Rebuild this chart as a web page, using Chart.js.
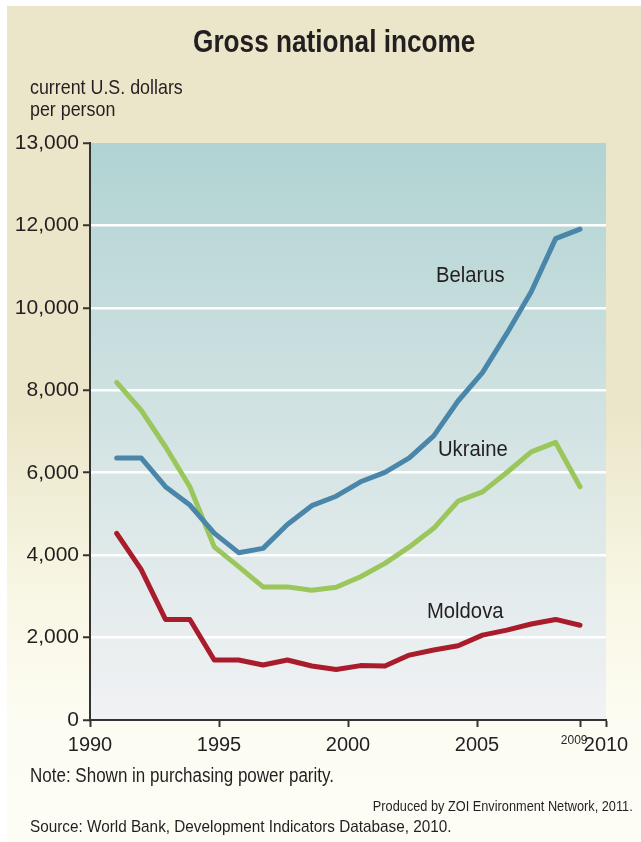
<!DOCTYPE html>
<html>
<head>
<meta charset="utf-8">
<script src="https://cdn.jsdelivr.net/npm/chart.js@4.4.1/dist/chart.umd.min.js"></script>
<style>
  html, body { margin: 0; padding: 0; background: #ffffff; }
  #page {
    position: relative; width: 641px; height: 842px; overflow: hidden;
    font-family: "Liberation Sans", Arial, sans-serif;
    color: #231f20;
  }
  #panel {
    position: absolute; left: 7px; top: 6px; right: 0; bottom: 0;
    background: linear-gradient(to bottom, #ebe6c9 0%, #ebe6c9 48%, #f8f6e4 70%, #fdfcf2 85%, #fefdf5 100%);
  }
  #chartBox { position: absolute; left: 0; top: 0; width: 641px; height: 842px; }
  /* the original uses a narrow sans, so squeeze the text a little */
  .txt { position: absolute; white-space: nowrap; transform-origin: left top; transform: scaleX(0.85); }
  #title { left: 193px; top: 24px; font-weight: bold; font-size: 31px; transform: scaleX(0.845); }
  #unit { left: 30px; top: 76px; font-size: 21px; line-height: 22px; }
  .series { font-size: 22px; transform: scaleX(0.92); }
  #note { left: 30px; top: 764px; font-size: 20px; }
  #producer { right: 8px; top: 797px; font-size: 15px; transform-origin: right top; }
  #source { left: 30px; top: 817px; font-size: 17px; transform: scaleX(0.9); }
</style>
</head>
<body>
<div id="page">
  <div id="panel"></div>
  <div id="chartBox"><canvas id="gniChart" width="641" height="842"></canvas></div>
  <div class="txt" id="title">Gross national income</div>
  <div class="txt" id="unit">current U.S. dollars<br>per person</div>
  <div class="txt series" style="left:436px; top:262px;">Belarus</div>
  <div class="txt series" style="left:438px; top:436px;">Ukraine</div>
  <div class="txt series" style="left:427px; top:598px;">Moldova</div>
  <div class="txt" id="note">Note: Shown in purchasing power parity.</div>
  <div class="txt" id="producer">Produced by ZOI Environment Network, 2011.</div>
  <div class="txt" id="source">Source: World Bank, Development Indicators Database, 2010.</div>
</div>
<script>
// Yearly values (US$ per person, PPP)
const years = [1990, 1991, 1992, 1993, 1994, 1995, 1996, 1997, 1998, 1999,
               2000, 2001, 2002, 2003, 2004, 2005, 2006, 2007, 2008, 2009];
const belarus = [6360, 6360, 5660, 5215, 4535, 4060, 4165, 4745, 5200, 5430,
                 5780, 6010, 6360, 6895, 7740, 8430, 9380, 10390, 11680, 11910];
const ukraine = [8190, 7520, 6630, 5660, 4200, 3720, 3230, 3230, 3150, 3220,
                 3475, 3800, 4200, 4650, 5310, 5535, 6005, 6505, 6735, 5660];
const moldova = [4530, 3655, 2440, 2440, 1455, 1455, 1335, 1455, 1310, 1225,
                 1320, 1310, 1575, 1700, 1800, 2060, 2180, 2330, 2440, 2300];

// Axis ticks as printed on the original
const yTickValues = [0, 2000, 4000, 6000, 8000, 10000, 12000, 14000];
const yTickLabels = ['0', '2,000', '4,000', '6,000', '8,000', '10,000', '12,000', '13,000'];
const xTickValues = [1990, 1995, 2000, 2005, 2009, 2010];
const xTickLabels = ['1990', '1995', '2000', '2005', '2009', '2010'];

const axisFont = "'Liberation Sans', Arial, sans-serif";
const ink = '#231f20';

function points(values) {
  return values.map((v, i) => ({ x: years[i], y: v }));
}

// plot area gradient
const plotBackground = {
  id: 'plotBackground',
  beforeDraw(chart) {
    const { ctx, chartArea: a } = chart;
    const g = ctx.createLinearGradient(0, a.top, 0, a.bottom);
    g.addColorStop(0, '#b1d3d3');
    g.addColorStop(0.5, '#d3e3e3');
    g.addColorStop(1, '#f1f2f4');
    ctx.save();
    ctx.fillStyle = g;
    ctx.fillRect(a.left, a.top, a.right - a.left, a.bottom - a.top);
    ctx.restore();
  }
};

function lineSet(label, values, color) {
  return {
    label: label,
    data: points(values),
    xAxisID: 'xData',
    borderColor: color,
    borderWidth: 5,
    borderCapStyle: 'round',
    borderJoinStyle: 'round',
    pointRadius: 0,
    tension: 0,
    fill: false
  };
}

const ctx = document.getElementById('gniChart').getContext('2d');
const gniChart = new Chart(ctx, {
  type: 'line',
  data: {
    datasets: [
      lineSet('Belarus', belarus, '#4a86a9'),
      lineSet('Ukraine', ukraine, '#9ac65c'),
      lineSet('Moldova', moldova, '#a91c2c')
    ]
  },
  options: {
    responsive: false,
    animation: false,
    layout: { padding: { top: 143, right: 35, bottom: 82, left: 0 } },
    plugins: {
      legend: { display: false },
      tooltip: { enabled: false }
    },
    scales: {
      xData: {
        type: 'linear',
        display: false,
        min: 1988.905,
        max: 2010.066
      },
      x: {
        type: 'linear',
        position: 'bottom',
        min: 1990,
        max: 2010,
        afterBuildTicks: (scale) => { scale.ticks = xTickValues.map(v => ({ value: v })); },
        afterFit: (scale) => { scale.height = 40; },
        grid: { drawOnChartArea: false, drawTicks: true, tickLength: 7, tickColor: '#333', tickWidth: 2 },
        border: { color: '#333', width: 2 },
        ticks: {
          autoSkip: false,
          maxRotation: 0,
          padding: 6,
          color: ink,
          font: (c) => ({ family: axisFont, size: c.tick && c.tick.value === 2009 ? 12 : 20 }),
          // the small 2009 label sits just left of its tick in the original
          callback: (value) => {
            const label = xTickLabels[xTickValues.indexOf(value)];
            return value === 2009 ? label + '\u2003' : label;
          }
        }
      },
      y: {
        type: 'linear',
        min: 0,
        max: 14000,
        afterBuildTicks: (scale) => { scale.ticks = yTickValues.map(v => ({ value: v })); },
        afterFit: (scale) => { scale.width = 90; },
        grid: {
          color: (c) => (c.tick && c.tick.value > 0 && c.tick.value < 14000) ? '#ffffff' : 'rgba(0,0,0,0)',
          lineWidth: 2.5,
          drawTicks: true,
          tickLength: 7,
          tickColor: '#333',
          tickWidth: 2
        },
        border: { color: '#333', width: 2 },
        ticks: {
          padding: 4,
          color: ink,
          font: { family: axisFont, size: 21 },
          callback: (value) => yTickLabels[yTickValues.indexOf(value)]
        }
      }
    }
  },
  plugins: [plotBackground]
});
</script>
</body>
</html>
